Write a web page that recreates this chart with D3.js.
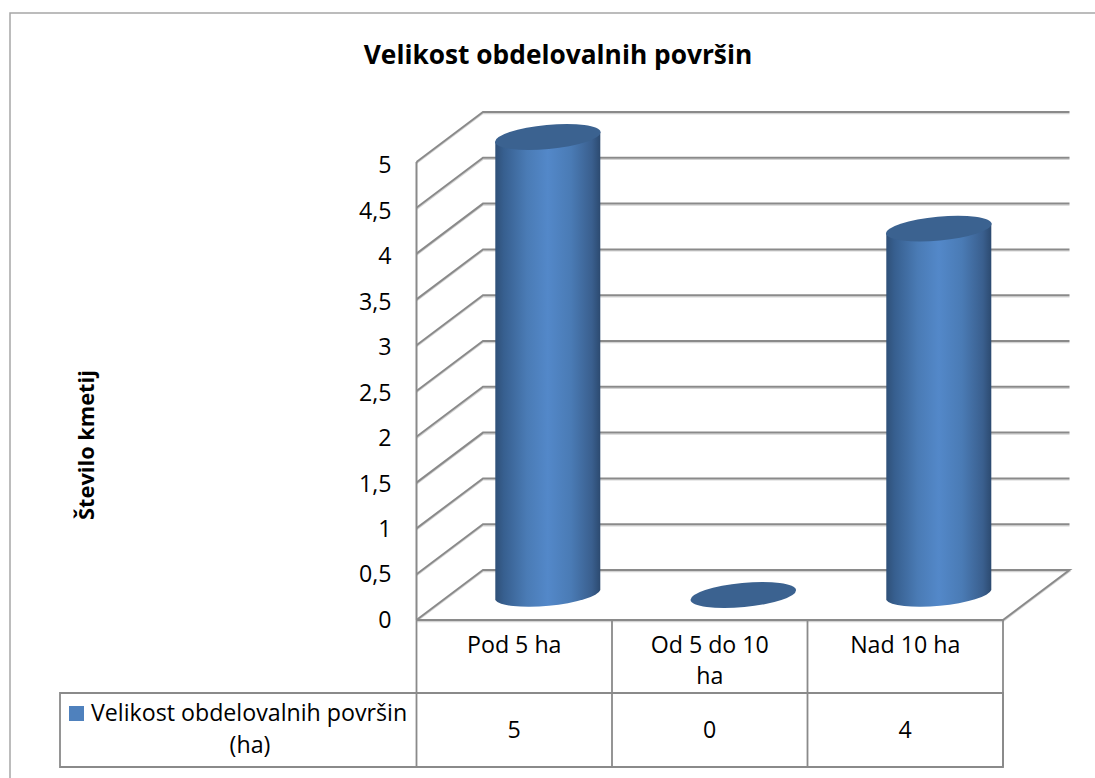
<!DOCTYPE html>
<html>
<head>
<meta charset="utf-8">
<script src="https://d3js.org/d3.v7.min.js"></script>
<style>
  html, body { margin: 0; padding: 0; background: #fff; }
  svg { display: block; }
  text { font-family: "Open Sans", "Noto Sans", sans-serif; fill: #000; }
</style>
</head>
<body>
<svg id="chart" width="1095" height="778"></svg>
<script>
const categories = [["Pod 5 ha"], ["Od 5 do 10", "ha"], ["Nad 10 ha"]];
const values = [5, 0, 4];
const ticks = [0, 0.5, 1, 1.5, 2, 2.5, 3, 3.5, 4, 4.5, 5];
const chartTitle = "Velikost obdelovalnih površin";
const yTitle = "Število kmetij";
const seriesName = ["Velikost obdelovalnih površin", "(ha)"];

const svg = d3.select("#chart");
const gridColor = "#8a8a8a";
const textSize = 23.2;

// ravnina: sprednji rob in zadnja stena
const frontLeft = 416.5, frontRight = 1003, frontBottom = 620;
const depthX = 66.5, depthY = 50;

const y = d3.scaleLinear().domain([0, 5]).range([frontBottom, 162]);
const yLabels = d3.scaleLinear().domain([0, 5]).range([619, 164.5]);
const x = d3.scaleBand().domain(d3.range(categories.length)).range([frontLeft, frontRight]);
const fmt = d => String(d).replace(".", ",");

// zunanji okvir
svg.append("path")
  .attr("d", "M10,778V13H1095")
  .attr("fill", "none")
  .attr("stroke", "#a6a6a6")
  .attr("stroke-width", 1.5);

// mreža
const grid = svg.append("g").attr("fill", "none").attr("stroke", gridColor);
ticks.forEach(t => {
  const yy = y(t);
  const pts = t === 0
    ? [[frontLeft, yy], [frontLeft + depthX, yy - depthY], [frontRight + depthX, yy - depthY], [frontRight, yy], [frontLeft, yy]]
    : [[frontLeft, yy], [frontLeft + depthX, yy - depthY], [frontRight + depthX, yy - depthY]];
  grid.append("path")
    .attr("d", d3.line()(pts))
    .attr("stroke", "#d4d4d4")
    .attr("stroke-width", 1.2)
    .attr("transform", "translate(0,1.6)");
  grid.append("path")
    .attr("d", d3.line()(pts))
    .attr("stroke-width", 2);
});
grid.append("line")
  .attr("x1", frontLeft).attr("x2", frontLeft)
  .attr("y1", y(5)).attr("y2", y(0))
  .attr("stroke-width", 2);

// valji
const defs = svg.append("defs");
const grad = defs.append("linearGradient").attr("id", "cyl");
[[0, "#2f5078"], [0.08, "#375f8f"], [0.3, "#4a7bb5"], [0.5, "#5388c9"], [0.72, "#4a7bb5"], [0.92, "#3a5f8e"], [1, "#2c4a70"]]
  .forEach(([o, c]) => grad.append("stop").attr("offset", o).attr("stop-color", c));

const rx = 53, ry = 12, tilt = -5.4;
const halfW = 52.5, halfH = 5;
categories.forEach((c, i) => {
  const cx = x(i) + x.bandwidth() / 2 + depthX / 2 + 0.3;
  const base = y(0) - depthY / 2;
  const top = y(values[i]) - depthY / 2;
  if (values[i] > 0) {
    svg.append("path")
      .attr("d", `M${cx - halfW},${top + halfH}L${cx - halfW},${base + halfH}` +
        `A${rx},${ry} ${tilt} 0 0 ${cx + halfW},${base - halfH}L${cx + halfW},${top - halfH}Z`)
      .attr("fill", "url(#cyl)");
  }
  svg.append("ellipse")
    .attr("cx", 0).attr("cy", 0)
    .attr("rx", rx).attr("ry", ry)
    .attr("transform", `translate(${cx},${top}) rotate(${tilt})`)
    .attr("fill", "#3b6290");
});

// os y
const axis = svg.append("g")
  .attr("transform", "translate(391.5,0)")
  .call(d3.axisLeft(yLabels).tickValues(ticks).tickFormat(fmt).tickSize(0).tickPadding(0));
axis.select(".domain").remove();
axis.selectAll("text")
  .attr("font-size", textSize)
  .attr("dy", "0.36em")
  .style("font-family", '"Open Sans", sans-serif');

// naslova
svg.append("text")
  .attr("x", 558).attr("y", 64)
  .attr("text-anchor", "middle")
  .attr("font-size", 26.3)
  .attr("font-weight", 700)
  .text(chartTitle);
svg.append("text")
  .attr("transform", "translate(94,445) rotate(-90)")
  .attr("text-anchor", "middle")
  .attr("font-size", 21.8)
  .attr("font-weight", 700)
  .text(yTitle);

// podatkovna tabela
const rowMid = 693, rowBottom = 767, legendLeft = 60;
const table = svg.append("g").attr("fill", "none").attr("stroke", gridColor).attr("stroke-width", 1.8);
table.append("path").attr("d", `M${legendLeft},${rowMid}H${frontRight}V${rowBottom}H${legendLeft}Z`);
x.domain().concat(categories.length).forEach(i => {
  const px = i === categories.length ? frontRight : x(i);
  table.append("path").attr("d", `M${px},${frontBottom}V${rowBottom}`);
});

categories.forEach((lines, i) => {
  const cx = x(i) + x.bandwidth() / 2;
  lines.forEach((line, k) => {
    svg.append("text")
      .attr("x", cx).attr("y", 653 + k * 31)
      .attr("text-anchor", "middle")
      .attr("font-size", textSize)
      .text(line);
  });
  svg.append("text")
    .attr("x", cx).attr("y", 738)
    .attr("text-anchor", "middle")
    .attr("font-size", textSize)
    .text(values[i]);
});

// legenda
svg.append("rect")
  .attr("x", 69).attr("y", 706)
  .attr("width", 15).attr("height", 15)
  .attr("fill", "#4f81bd");
svg.append("text")
  .attr("x", 91).attr("y", 721)
  .attr("font-size", textSize)
  .text(seriesName[0]);
svg.append("text")
  .attr("x", 250).attr("y", 753)
  .attr("text-anchor", "middle")
  .attr("font-size", textSize)
  .text(seriesName[1]);
</script>
</body>
</html>
